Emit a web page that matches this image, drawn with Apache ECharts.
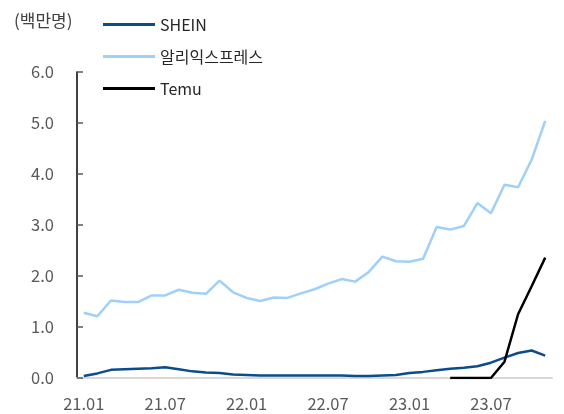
<!DOCTYPE html>
<html>
<head>
<meta charset="utf-8">
<script src="https://cdn.jsdelivr.net/npm/echarts@6/dist/echarts.min.js"></script>
<style>
html, body { margin: 0; padding: 0; background: #fff; }
#chart { width: 564px; height: 414px; }
</style>
</head>
<body>
<div id="chart"></div>
<script>
// 월별 카테고리 (21.01 ~ 23.11)
var months = [
	'21.01','21.02','21.03','21.04','21.05','21.06','21.07','21.08','21.09','21.10','21.11','21.12',
	'22.01','22.02','22.03','22.04','22.05','22.06','22.07','22.08','22.09','22.10','22.11','22.12',
	'23.01','23.02','23.03','23.04','23.05','23.06','23.07','23.08','23.09','23.10','23.11'
];
var shein = [
	0.04, 0.09, 0.16, 0.17, 0.18, 0.19, 0.21, 0.17, 0.13, 0.11, 0.10, 0.07,
	0.06, 0.05, 0.05, 0.05, 0.05, 0.05, 0.05, 0.05, 0.04, 0.04, 0.05, 0.06,
	0.10, 0.12, 0.15, 0.18, 0.20, 0.23, 0.30, 0.40, 0.49, 0.54, 0.44
];
var aliexpress = [
	1.28, 1.21, 1.52, 1.49, 1.49, 1.62, 1.62, 1.73, 1.67, 1.65, 1.91, 1.68,
	1.57, 1.51, 1.58, 1.57, 1.66, 1.74, 1.85, 1.94, 1.89, 2.08, 2.38, 2.29,
	2.28, 2.34, 2.96, 2.91, 2.98, 3.43, 3.23, 3.79, 3.74, 4.28, 5.04
];
var temu = [
	null, null, null, null, null, null, null, null, null, null, null, null,
	null, null, null, null, null, null, null, null, null, null, null, null,
	null, null, null, 0, 0, 0, 0, 0.32, 1.25, 1.8, 2.36
];
var yTicks = [0, 1, 2, 3, 4, 5, 6];

var myChart = echarts.init(document.getElementById('chart'));
var font = '"Noto Sans CJK KR", "Noto Sans", sans-serif';

option = {
	backgroundColor: '#fff',
	animation: false,
	color: ['#0b4d8c', '#9fd0fa', '#000000'],
	title: {
		text: '(백만명)',
		left: 9,
		top: 7,
		textStyle: { fontFamily: font, fontSize: 17, fontWeight: 'normal', color: '#404040' }
	},
	legend: {
		orient: 'vertical',
		left: 98,
		top: 10,
		itemWidth: 52,
		itemHeight: 3,
		itemGap: 13,
		icon: 'rect',
		textStyle: { fontFamily: font, fontSize: 16, color: '#262626', lineHeight: 19 },
		data: ['SHEIN', '알리익스프레스', 'Temu']
	},
	grid: { left: 77, right: 12, top: 72, bottom: 36 },
	xAxis: {
		type: 'category',
		boundaryGap: true,
		data: months,
		axisLine: { lineStyle: { color: '#d9d9d9', width: 2 } },
		axisTick: { inside: true, length: 6, interval: 5, lineStyle: { color: '#d9d9d9', width: 1.5 } },
		axisLabel: { interval: 5, margin: 17, fontFamily: font, fontSize: 16.5, color: '#595959' },
		splitLine: { show: false }
	},
	yAxis: {
		type: 'value',
		min: yTicks[0],
		max: yTicks[yTicks.length - 1],
		interval: 1,
		axisLine: { show: true, lineStyle: { color: '#000', width: 1.5 } },
		axisTick: { show: true, inside: true, length: 6, lineStyle: { color: '#595959', width: 1.5 } },
		axisLabel: {
			margin: 23,
			fontFamily: font, fontSize: 16.5, color: '#595959',
			formatter: function (v) { return v.toFixed(1); }
		},
		splitLine: { show: false }
	},
	series: [
		{ name: 'SHEIN', type: 'line', data: shein, showSymbol: false, lineStyle: { width: 2.5 } },
		{ name: '알리익스프레스', type: 'line', data: aliexpress, showSymbol: false, lineStyle: { width: 2.5 } },
		{ name: 'Temu', type: 'line', data: temu, showSymbol: false, lineStyle: { width: 2.5 } }
	]
};

myChart.setOption(option);
</script>
</body>
</html>
